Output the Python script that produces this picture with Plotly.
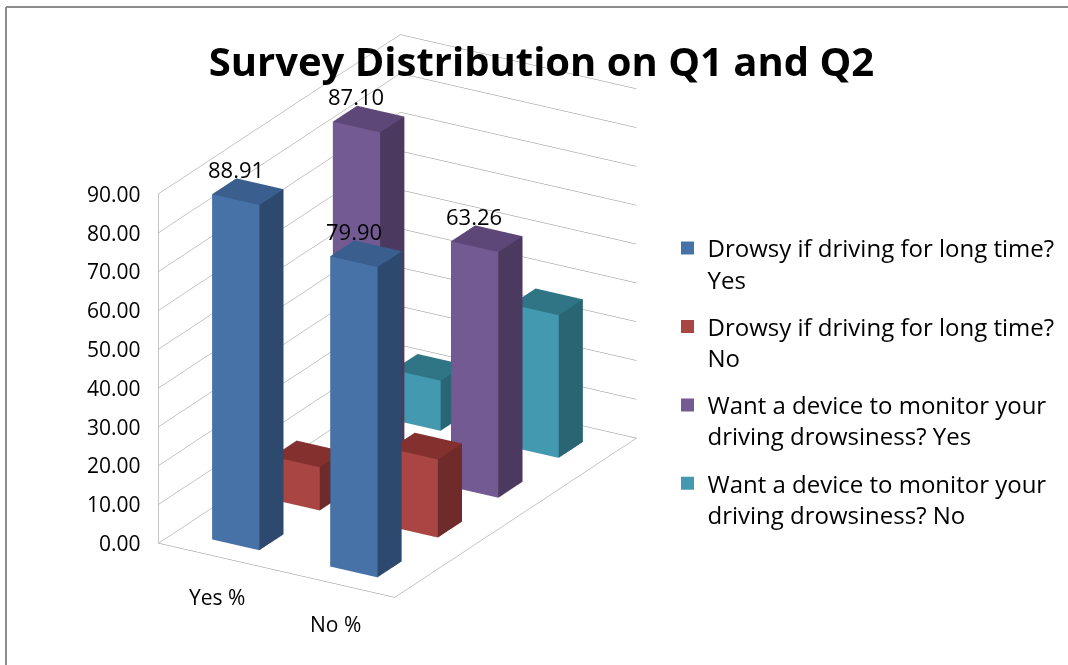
import plotly.graph_objects as go

# Survey results: two answer categories, four question/answer series
categories = ["Yes %", "No %"]
series_names = [
    "Drowsy if driving for long time?<br>Yes",
    "Drowsy if driving for long time?<br>No",
    "Want a device to monitor your<br>driving drowsiness? Yes",
    "Want a device to monitor your<br>driving drowsiness? No",
]
drowsy_yes = [88.91, 79.90]
drowsy_no = [11.09, 20.10]
device_yes = [87.10, 63.26]
device_no = [12.90, 36.74]
series_values = [drowsy_yes, drowsy_no, device_yes, device_no]
labelled = [True, False, True, False]
value_ticks = [0, 10, 20, 30, 40, 50, 60, 70, 80, 90]

# face shades per series: front, side, top
front_colors = ["#4672a8", "#a94543", "#745a92", "#4399b0"]
side_colors = ["#2d4a6e", "#6f2b29", "#4b3960", "#2a6573"]
top_colors = ["#3a5f8e", "#84302e", "#5d4779", "#2f7585"]

FONT = "Open Sans"
HALF = 0.2  # half width of a column in category / depth units
X_RANGE = [-0.5, 1.5]
Y_RANGE = [-0.5, 3.5]

fig = go.Figure()


def box_mesh(values, row, front, side, top):
    xs, ys, zs, ii, jj, kk, fc = [], [], [], [], [], [], []
    for ci, v in enumerate(values):
        x0, x1 = ci - HALF, ci + HALF
        y0, y1 = row - HALF, row + HALF
        base = len(xs)
        corners = [(x0, y0, 0), (x1, y0, 0), (x1, y1, 0), (x0, y1, 0),
                   (x0, y0, v), (x1, y0, v), (x1, y1, v), (x0, y1, v)]
        for cx, cy, cz in corners:
            xs.append(cx); ys.append(cy); zs.append(cz)
        faces = [
            ((0, 1, 5), front), ((0, 5, 4), front),
            ((1, 2, 6), side), ((1, 6, 5), side),
            ((4, 5, 6), top), ((4, 6, 7), top),
            ((3, 2, 6), side), ((3, 6, 7), side),
            ((0, 3, 7), side), ((0, 7, 4), side),
            ((0, 1, 2), side), ((0, 2, 3), side),
        ]
        for (a, b, c), col in faces:
            ii.append(base + a); jj.append(base + b); kk.append(base + c)
            fc.append(col)
    return go.Mesh3d(
        x=xs, y=ys, z=zs, i=ii, j=jj, k=kk, facecolor=fc,
        flatshading=True,
        lighting=dict(ambient=1.0, diffuse=0.0, specular=0.0, roughness=1.0, fresnel=0.0),
        hoverinfo="skip", showlegend=False, showscale=False,
    )


for row, vals in enumerate(series_values):
    fig.add_trace(box_mesh(vals, row, front_colors[row], side_colors[row], top_colors[row]))

# legend entries
for row, name in enumerate(series_names):
    fig.add_trace(go.Scatter(
        x=[None], y=[None], mode="markers", name=name, legendgroup=f"s{row}",
        marker=dict(symbol="square", size=13, color=front_colors[row]),
    ))

annotations = []
# value labels above labelled series
for row, vals in enumerate(series_values):
    if not labelled[row]:
        continue
    for ci, v in enumerate(vals):
        annotations.append(dict(
            x=ci, y=row - HALF, z=v, text=f"{v:.2f}", showarrow=False,
            xanchor="center", yanchor="bottom", yshift=14,
            font=dict(family=FONT, size=22, color="#000000"),
        ))
# value axis labels along the front-left wall edge
for t in value_ticks:
    annotations.append(dict(
        x=X_RANGE[0], y=Y_RANGE[0], z=t, text=f"{t:.2f}", showarrow=False,
        xanchor="right", yanchor="middle", xshift=-15,
        font=dict(family=FONT, size=21, color="#000000"),
    ))
# category labels under the front floor edge
for ci, name in enumerate(categories):
    annotations.append(dict(
        x=ci, y=Y_RANGE[0], z=0, text=name, showarrow=False,
        xanchor="center", yanchor="middle", yshift=-40,
        font=dict(family=FONT, size=21, color="#000000"),
    ))

axis_common = dict(
    showbackground=False, showspikes=False, title=dict(text=""),
    showline=True, linecolor="#8c8c8c", linewidth=1,
    zeroline=False, ticks="", showticklabels=False,
)

fig.update_layout(
    width=1068, height=665,
    margin=dict(l=0, r=0, t=0, b=0),
    paper_bgcolor="white", plot_bgcolor="white",
    font=dict(family=FONT, color="#000000"),
    title=dict(
        text="<b>Survey Distribution on Q1 and Q2</b>",
        x=0.507, xanchor="center", y=0.907, yanchor="middle",
        font=dict(family=FONT, size=40, color="#000000"),
    ),
    xaxis=dict(visible=False), yaxis=dict(visible=False),
    legend=dict(
        x=0.625, xanchor="left", y=1 - 226 / 665, yanchor="top",
        font=dict(family=FONT, size=24, color="#000000"),
        valign="top", tracegroupgap=13, bgcolor="rgba(0,0,0,0)",
        itemwidth=30,
    ),
    scene=dict(
        domain=dict(x=[0.0, 0.744], y=[0.05, 1.0]),
        aspectmode="manual", aspectratio=dict(x=0.868, y=1.505, z=1.20),
        camera=dict(
            eye=dict(x=0.59 * 1.7, y=-1.0 * 1.7, z=0.49 * 1.7),
            center=dict(x=0, y=0, z=0), up=dict(x=0, y=0, z=1),
            projection=dict(type="orthographic"),
        ),
        xaxis=dict(axis_common, range=X_RANGE, showgrid=False),
        yaxis=dict(axis_common, range=Y_RANGE, showgrid=False),
        zaxis=dict(axis_common, range=[0, 90], dtick=10,
                   showgrid=True, gridcolor="#8c8c8c", gridwidth=1),
        annotations=annotations,
    ),
    shapes=[
        dict(type="line", xref="paper", yref="paper", x0=6 / 1068, x1=6 / 1068,
             y0=-0.1, y1=1 - 7 / 665, line=dict(color="#8c8c8c", width=2)),
        dict(type="line", xref="paper", yref="paper", x0=6 / 1068, x1=1.1,
             y0=1 - 7 / 665, y1=1 - 7 / 665, line=dict(color="#8c8c8c", width=2)),
    ],
)

fig.write_html("out.html")
